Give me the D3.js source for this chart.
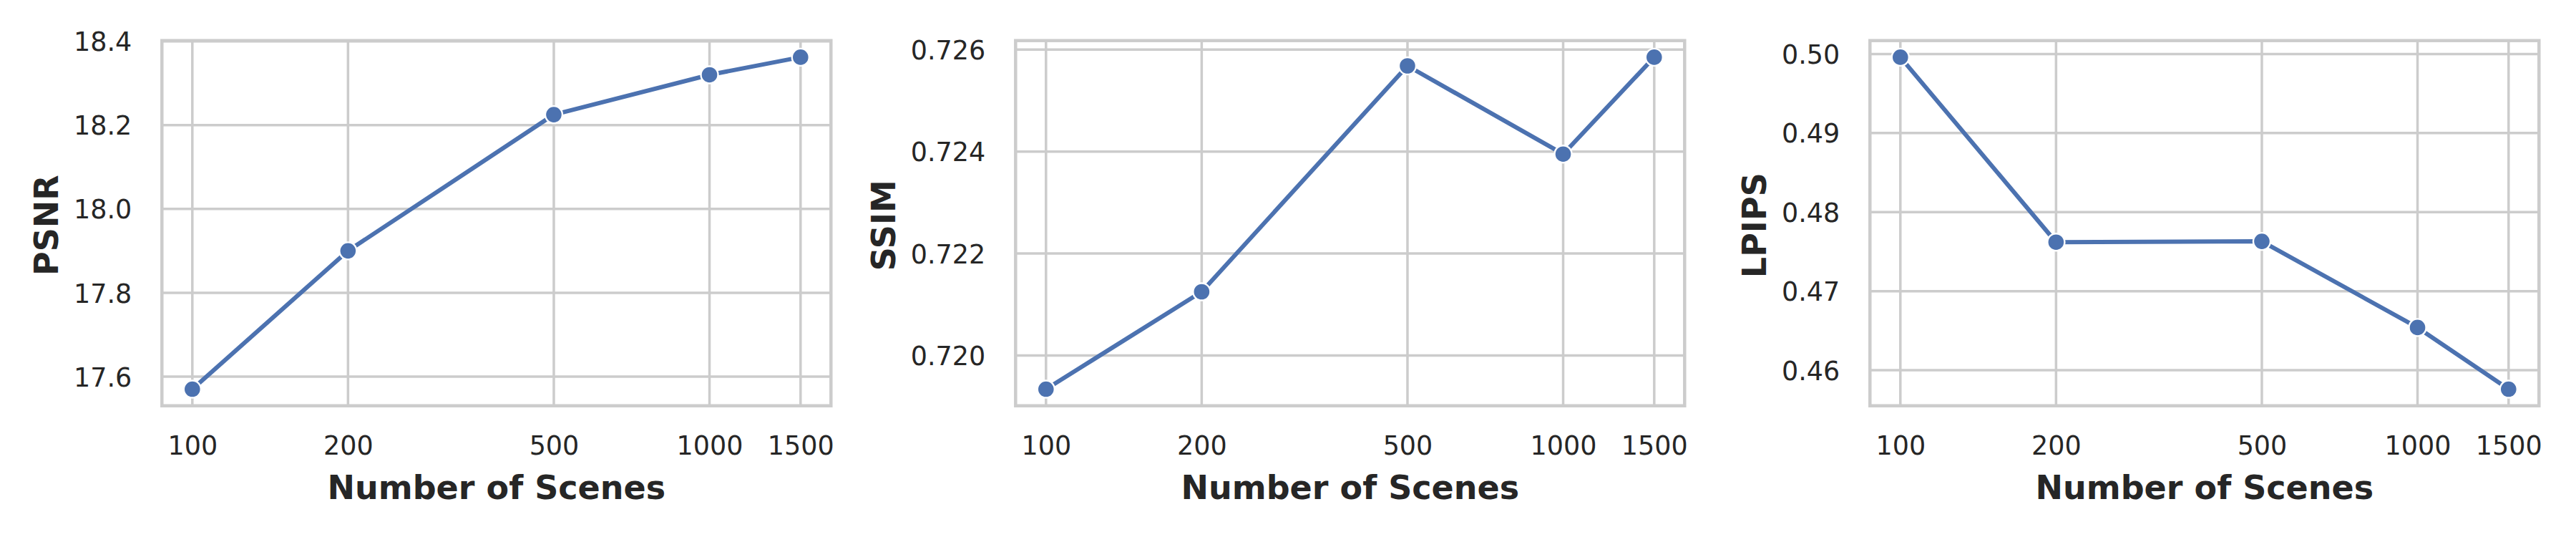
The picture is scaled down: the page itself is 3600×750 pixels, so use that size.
<!DOCTYPE html>
<html>
<head>
<meta charset="utf-8">
<script src="https://cdn.jsdelivr.net/npm/d3@7"></script>
<style>
  html, body { margin: 0; padding: 0; background: #ffffff; }
  svg { display: block; }
  text { font-family: "DejaVu Sans", sans-serif; fill: #262626; }
</style>
</head>
<body>
<svg id="chart" width="3600" height="750"></svg>
<script>
// ---- data ----
const scenes = [100, 200, 500, 1000, 1500];
const xTickLabels = ["100", "200", "500", "1000", "1500"];
const psnr  = [17.570, 17.900, 18.225, 18.320, 18.362];
const ssim  = [0.71934, 0.72125, 0.72568, 0.72395, 0.72585];
const lpips = [0.4996, 0.4762, 0.4763, 0.4654, 0.4576];
const psnrTicks  = [17.6, 17.8, 18.0, 18.2, 18.4];
const ssimTicks  = [0.720, 0.722, 0.724, 0.726];
const lpipsTicks = [0.46, 0.47, 0.48, 0.49, 0.50];
const yLabels = ["PSNR", "SSIM", "LPIPS"];
const xLabel = "Number of Scenes";

// ---- layout ----
const panels = [
  { values: psnr,  ticks: psnrTicks,  fmt: d3.format(".1f"), label: yLabels[0], left: 226.3 },
  { values: ssim,  ticks: ssimTicks,  fmt: d3.format(".3f"), label: yLabels[1], left: 1419.3 },
  { values: lpips, ticks: lpipsTicks, fmt: d3.format(".2f"), label: yLabels[2], left: 2613.3 }
];
const W = 935, TOP = 56.7, H = 510;
const color = "#4C72B0", gridColor = "#cccccc";

const svg = d3.select("#chart");

// x scale with matplotlib-like 5% margins in log space
const lmin = Math.log10(d3.min(scenes)), lmax = Math.log10(d3.max(scenes));
const lm = (lmax - lmin) * 0.05;

panels.forEach(p => {
  const g = svg.append("g").attr("transform", `translate(${p.left},${TOP})`);
  const x = d3.scaleLog().domain([Math.pow(10, lmin - lm), Math.pow(10, lmax + lm)]).range([0, W]);
  const vmin = d3.min(p.values), vmax = d3.max(p.values), m = (vmax - vmin) * 0.05;
  const y = d3.scaleLinear().domain([vmin - m, vmax + m]).range([H, 0]);
  const yt = p.ticks.filter(t => t >= y.domain()[0] && t <= y.domain()[1]);

  // grid
  const grid = g.append("g");
  grid.selectAll("line.v").data(scenes).enter().append("line")
    .attr("x1", d => x(d)).attr("x2", d => x(d)).attr("y1", 0).attr("y2", H)
    .attr("stroke", gridColor).attr("stroke-width", 3.5);
  grid.selectAll("line.h").data(yt).enter().append("line")
    .attr("y1", d => y(d)).attr("y2", d => y(d)).attr("x1", 0).attr("x2", W)
    .attr("stroke", gridColor).attr("stroke-width", 3.5);

  // x axis labels via d3 axis
  const xAxis = d3.axisBottom(x).tickValues(scenes).tickFormat((d, i) => xTickLabels[i]).tickSize(0).tickPadding(0);
  const xa = g.append("g").attr("transform", `translate(0,${H})`).call(xAxis);
  xa.select(".domain").remove();
  xa.selectAll("text").attr("font-size", 36.5).attr("fill", "#262626")
    .attr("font-family", "DejaVu Sans").attr("y", 68).attr("dy", 0);

  // y axis labels
  const yAxis = d3.axisLeft(y).tickValues(yt).tickFormat(p.fmt).tickSize(0).tickPadding(0);
  const ya = g.append("g").call(yAxis);
  ya.select(".domain").remove();
  ya.selectAll("text").attr("font-size", 36.5).attr("fill", "#262626")
    .attr("font-family", "DejaVu Sans").attr("x", -42).attr("dy", "0.36em");

  // line
  const line = d3.line().x((d, i) => x(scenes[i])).y(d => y(d));
  g.append("path").datum(p.values).attr("d", line)
    .attr("fill", "none").attr("stroke", color).attr("stroke-width", 6)
    .attr("stroke-linejoin", "round").attr("stroke-linecap", "round");
  g.selectAll("circle.pt").data(p.values).enter().append("circle")
    .attr("cx", (d, i) => x(scenes[i])).attr("cy", d => y(d)).attr("r", 12)
    .attr("fill", color).attr("stroke", "#ffffff").attr("stroke-width", 2.4);

  // frame
  g.append("rect").attr("x", 0).attr("y", 0).attr("width", W).attr("height", H)
    .attr("fill", "none").attr("stroke", gridColor).attr("stroke-width", 4.5);

  // x label
  g.append("text").attr("x", W / 2).attr("y", 640).attr("text-anchor", "middle")
    .attr("font-size", 46).attr("font-weight", "bold").text(xLabel);

  // y label placed left of tick labels
  let minX = 0;
  ya.selectAll("text").each(function() { const b = this.getBBox(); minX = Math.min(minX, b.x); });
  g.append("text").attr("transform", `translate(${minX - 22},${H / 2 + 3}) rotate(-90)`)
    .attr("text-anchor", "middle").attr("font-size", 46).attr("font-weight", "bold").text(p.label);
});
</script>
</body>
</html>
